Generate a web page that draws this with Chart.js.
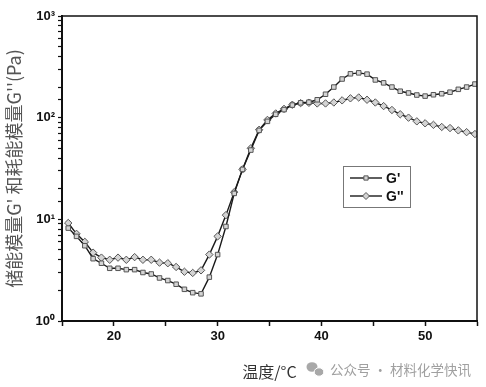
<!DOCTYPE html>
<html>
<head>
<meta charset="utf-8">
<script src="https://cdn.jsdelivr.net/npm/chart.js@4.4.0/dist/chart.umd.min.js"></script>
<style>
  html, body { margin: 0; padding: 0; background: #ffffff; }
  #wrap { width: 486px; height: 387px; position: relative; }
</style>
</head>
<body>
<div id="wrap"><canvas id="c" width="486" height="387"></canvas></div>
<script>
// Temperature (°C)
const temperature = [15.6, 16.4, 17.2, 18.0, 18.8, 19.6, 20.4, 21.2, 22.0, 22.8,
  23.6, 24.4, 25.2, 26.0, 26.8, 27.6, 28.4, 29.2, 30.0, 30.8,
  31.6, 32.4, 33.2, 34.0, 34.8, 35.6, 36.4, 37.2, 38.0, 38.8,
  39.6, 40.4, 41.2, 42.0, 42.8, 43.6, 44.4, 45.2, 46.0, 46.8,
  47.6, 48.4, 49.2, 50.0, 50.8, 51.6, 52.4, 53.2, 54.0, 54.8];
// Storage modulus G' (Pa)
const gStorage = [8.2, 6.8, 5.5, 4.1, 3.7, 3.3, 3.3, 3.2, 3.2, 3.0,
  2.9, 2.65, 2.5, 2.3, 2.05, 1.9, 1.85, 2.7, 4.5, 8.5,
  18, 31, 48, 75, 92, 108, 120, 133, 140, 142,
  150, 170, 200, 240, 270, 276, 268, 235, 220, 200,
  182, 175, 167, 163, 168, 172, 178, 190, 200, 214];
// Loss modulus G'' (Pa)
const gLoss = [9.2, 7.2, 6.0, 4.7, 4.2, 4.0, 4.2, 4.0, 4.25, 4.0,
  4.0, 3.75, 3.7, 3.4, 3.05, 2.97, 3.15, 4.5, 6.8, 11,
  18.5, 31, 50, 76, 95, 110, 122, 134, 139, 140,
  138, 138, 141, 148, 155, 158, 150, 141, 130, 119,
  108, 100, 92, 88, 85, 81, 79, 75, 72, 69];
const seriesNames = ["G'", "G''"];
const xTitle = "温度/°C";
const yTitle = "储能模量G' 和耗能模量G''(Pa)";
const watermark = "公众号 · 材料化学快讯";

const sup = {0: '⁰', 1: '¹', 2: '²', 3: '³'};

const frame = {
  id: 'frame',
  afterDraw(chart) {
    const {ctx, chartArea: a} = chart;
    ctx.save();
    ctx.strokeStyle = '#111';
    ctx.lineWidth = 1.5;
    ctx.strokeRect(a.left, a.top, a.right - a.left, a.bottom - a.top);
    // legend box
    const bx = 343, by = 166, bw = 67, bh = 41;
    ctx.strokeStyle = '#777';
    ctx.lineWidth = 1;
    ctx.strokeRect(bx + 0.5, by + 0.5, bw, bh);
    const rows = [{y: 178, style: 'rect'}, {y: 196, style: 'rectRot'}];
    rows.forEach((r, i) => {
      ctx.strokeStyle = '#1a1a1a';
      ctx.lineWidth = 1.4;
      ctx.beginPath();
      ctx.moveTo(350, r.y);
      ctx.lineTo(382, r.y);
      ctx.stroke();
      ctx.fillStyle = '#d4d4d4';
      ctx.strokeStyle = '#555';
      ctx.lineWidth = 1;
      Chart.helpers.drawPoint(ctx, {pointStyle: r.style, radius: r.style === 'rect' ? 3 : 3.5, borderWidth: 1}, 366, r.y);
      ctx.fillStyle = '#111';
      ctx.font = 'bold 14px "Liberation Sans", Arial, sans-serif';
      ctx.textBaseline = 'middle';
      ctx.textAlign = 'left';
      ctx.fillText(seriesNames[i], 386, r.y + 1);
    });
    // watermark
    ctx.fillStyle = '#a8a8a8';
    ctx.beginPath();
    ctx.ellipse(312, 367, 5.5, 4.8, 0, 0, Math.PI * 2);
    ctx.fill();
    ctx.beginPath();
    ctx.ellipse(319, 372, 4.8, 4.2, 0, 0, Math.PI * 2);
    ctx.fill();
    ctx.strokeStyle = '#fff';
    ctx.lineWidth = 1;
    ctx.beginPath();
    ctx.ellipse(319, 372, 4.8, 4.2, 0, 0, Math.PI * 2);
    ctx.stroke();
    ctx.fillStyle = '#a0a0a0';
    ctx.font = '13.5px "Noto Sans CJK SC", sans-serif';
    ctx.textBaseline = 'middle';
    ctx.textAlign = 'left';
    ctx.fillText(watermark, 330, 370);
    ctx.restore();
  }
};

const mk = (vals) => vals.map((v, i) => ({x: temperature[i], y: v}));

new Chart(document.getElementById('c'), {
  type: 'line',
  data: {
    datasets: [
      {
        label: seriesNames[0], data: mk(gStorage),
        borderColor: '#1a1a1a', borderWidth: 1.4,
        pointStyle: 'rect', pointRadius: 3.2,
        pointBackgroundColor: '#d4d4d4', pointBorderColor: '#555', pointBorderWidth: 1,
        tension: 0
      },
      {
        label: seriesNames[1], data: mk(gLoss),
        borderColor: '#1a1a1a', borderWidth: 1.4,
        pointStyle: 'rectRot', pointRadius: 3.7,
        pointBackgroundColor: '#d4d4d4', pointBorderColor: '#555', pointBorderWidth: 1,
        tension: 0
      }
    ]
  },
  options: {
    responsive: false,
    animation: false,
    devicePixelRatio: 1,
    layout: { padding: { top: 16, right: 9, left: 0, bottom: 0 } },
    plugins: { legend: { display: false }, tooltip: { enabled: false } },
    scales: {
      x: {
        type: 'linear', min: 15, max: 55,
        afterFit(s) { s.height = 66; },
        border: { display: true, color: '#111', width: 2 },
        grid: { drawOnChartArea: false, drawTicks: true, tickLength: 5, color: '#111', tickWidth: 1.5 },
        ticks: {
          stepSize: 5, padding: 3, color: '#111',
          font: { family: '"Liberation Sans", Arial, sans-serif', size: 13, weight: 'bold' },
          callback: (v) => (v % 10 === 0 && v > 15 && v < 55) ? String(v) : ''
        },
        title: {
          display: true, text: xTitle, color: '#333',
          font: { family: '"Noto Sans CJK SC", sans-serif', size: 16 },
          padding: { top: 0, bottom: 5 }
        }
      },
      y: {
        type: 'logarithmic', min: 1, max: 1000,
        afterFit(s) { s.width = 62; },
        border: { display: true, color: '#111', width: 2 },
        grid: { drawOnChartArea: false, drawTicks: true, tickLength: 4, color: '#111', tickWidth: 1.2 },
        ticks: {
          autoSkip: false, padding: 3, color: '#111',
          font: { family: '"Liberation Sans", Arial, sans-serif', size: 13, weight: 'bold' },
          callback: (v) => {
            const e = Math.log10(v);
            return Math.abs(e - Math.round(e)) < 1e-9 ? '10' + sup[Math.round(e)] : '';
          }
        },
        title: {
          display: true, text: yTitle, color: '#555',
          font: { family: '"Noto Sans CJK SC", sans-serif', size: 18 },
          padding: { top: 3, bottom: 0 }
        }
      }
    }
  },
  plugins: [frame]
});
</script>
</body>
</html>
